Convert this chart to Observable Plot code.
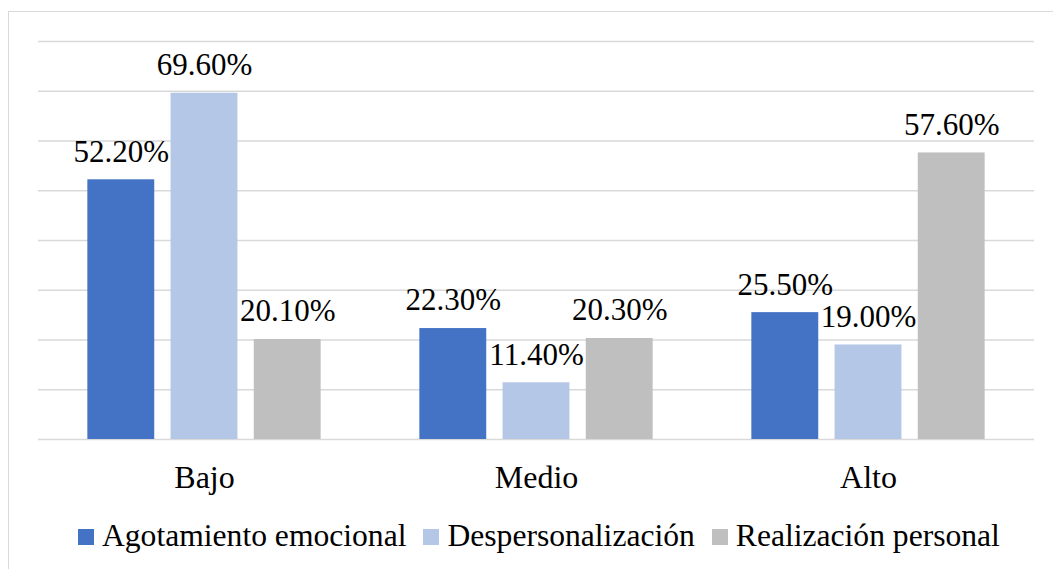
<!DOCTYPE html>
<html><head><meta charset="utf-8">
<script src="https://cdn.jsdelivr.net/npm/d3@7"></script>
<script src="https://cdn.jsdelivr.net/npm/@observablehq/plot@0.6"></script>
<style>
html,body{margin:0;padding:0;background:#fff;overflow:hidden;width:1053px;height:569px;position:relative;font-family:'Liberation Serif';}
#frame{position:absolute;left:8px;top:11px;width:1100px;height:600px;border:1px solid #d9d9d9;box-sizing:border-box;}
#chart{position:absolute;left:0;top:0;}
#chart svg text{font-family:'Liberation Serif' !important;}
#legend{position:absolute;left:78px;top:520px;font-size:31.6px;line-height:32px;white-space:nowrap;color:#000;}
.item{display:inline-block;margin-right:17px;}
.sw{display:inline-block;width:16px;height:16px;margin-right:8px;vertical-align:1px;}
</style>
</head><body>
<div id="frame"></div>
<div id="chart"></div>
<div id="legend" style="font-family:'Liberation Serif'"></div>
<script>
const categories = ["Bajo", "Medio", "Alto"];
const series = ["Agotamiento emocional", "Despersonalización", "Realización personal"];
const agotamiento = [52.2, 22.3, 25.5];
const despersonalizacion = [69.6, 11.4, 19.0];
const realizacion = [20.1, 20.3, 57.6];
const colors = ["#4472C4", "#B4C7E7", "#BFBFBF"];
const gridTicks = [0, 10, 20, 30, 40, 50, 60, 70, 80];

const seriesValues = [agotamiento, despersonalizacion, realizacion];
const data = [];
categories.forEach((c, i) => {
  series.forEach((s, j) => {
    data.push({cat: c, series: s, value: seriesValues[j][i]});
  });
});

const chart = Plot.plot({
  width: 1053,
  height: 500,
  marginLeft: 37,
  marginRight: 18,
  marginTop: 41,
  marginBottom: 61,
  style: {fontFamily: "Liberation Serif", fontSize: "32px", background: "transparent", color: "#000", overflow: "visible"},
  fx: {domain: categories, padding: 0, label: null, axis: "bottom", tickSize: 0, tickPadding: 26},
  x: {domain: series, paddingInner: 0.196, paddingOuter: 0.593, round: false, axis: null},
  y: {domain: [0, 80], axis: null},
  color: {domain: series, range: colors},
  marks: [
    Plot.ruleY(gridTicks, {stroke: "#d9d9d9", strokeWidth: 1.5}),
    Plot.barY(data, {fx: "cat", x: "series", y: "value", fill: "series"}),
    Plot.text(data, {fx: "cat", x: "series", y: "value", text: d => d.value.toFixed(2) + "%", lineAnchor: "middle", dy: -28, fontSize: 31, fontFamily: "Liberation Serif", fill: "#000"})
  ]
});
document.getElementById("chart").appendChild(chart);

const legend = document.getElementById("legend");
series.forEach((s, j) => {
  const item = document.createElement("span");
  item.className = "item";
  const sw = document.createElement("span");
  sw.className = "sw";
  sw.style.background = colors[j];
  item.appendChild(sw);
  item.appendChild(document.createTextNode(s));
  legend.appendChild(item);
});
</script>
</body></html>
